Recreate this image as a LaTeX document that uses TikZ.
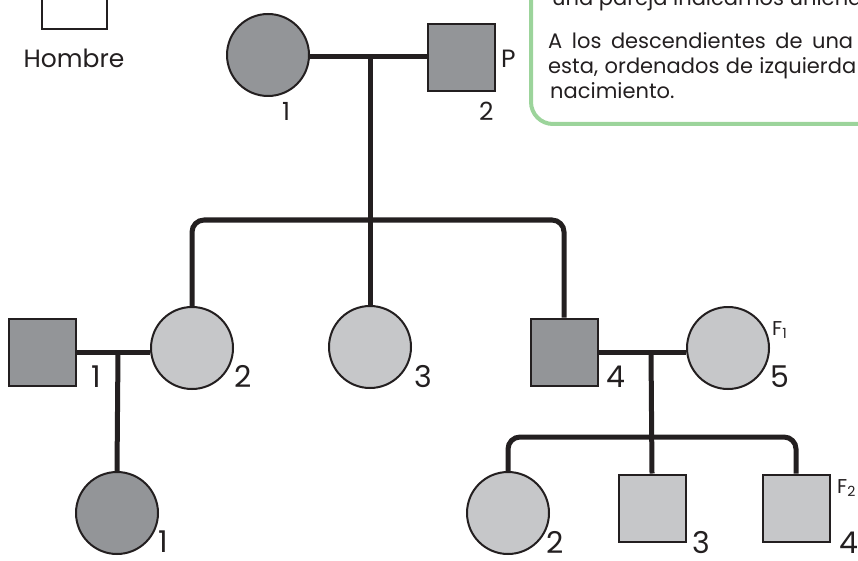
\documentclass[tikz,border=0pt]{standalone}
\usepackage{fontspec}
\setmainfont{Poppins}
\usetikzlibrary{positioning}
\definecolor{PedDark}{HTML}{939598}
\definecolor{PedLight}{HTML}{C6C7C9}
\definecolor{PedInk}{HTML}{231F20}
\definecolor{NoteGreen}{HTML}{9CD49B}

\begin{document}
\begin{tikzpicture}[x=1pt,y=-1pt,
    man/.style={draw=PedInk,line width=2pt,minimum size=67pt,inner sep=0pt},
    woman/.style={draw=PedInk,circle,line width=2pt,minimum size=82pt,inner sep=0pt},
    tie/.style={PedInk,line width=5pt},
    num/.style={anchor=base west,inner sep=0pt,text=PedInk,font=\fontsize{30}{32}\selectfont},
    smallnum/.style={num,font=\fontsize{25}{28}\selectfont},
    note/.style={anchor=base west,inner sep=0pt,text=PedInk,font=\fontsize{21}{25}\selectfont}]
  \useasboundingbox (0,0) rectangle (858,561);
  \clip (0,0) rectangle (858,561);

  % legend
  \node[man,minimum size=65pt] (legend) at (74,-3) {};
  \node[anchor=base,inner sep=0pt,text=PedInk,font=\fontsize{25}{28}\selectfont] (legendtxt) at (74,68) {Hombre};

  % note box
  \draw[NoteGreen,line width=4pt,rounded corners=22pt] (531,-40) |- (900,124);
  \node[note] (noteA) at (552,6) {una pareja indicamos uniendo};
  \node[note] (noteB) at (548,49) {\makebox[305pt][s]{A los descendientes de una}};
  \node[note] (noteC) at (548,74) {\makebox[308pt][s]{esta, ordenados de izquierda}};
  \node[note] (noteD) at (550,99) {nacimiento.};

  % generation I
  \node[woman,fill=PedDark] (gen1a) at (268,55) {};
  \node[man,fill=PedDark] (gen1b) at (461,58) {};
  \coordinate (mate1) at (370,57);
  \node[smallnum] (lab1a) at (282,121) {1};
  \node[smallnum] (lab1b) at (479,121) {2};
  \node[smallnum] (labP) at (501,68) {P};

  % generation II
  \node[man,fill=PedDark] (gen2x) at (42,352) {};
  \node[woman,fill=PedLight] (gen2a) at (192,348) {};
  \node[woman,fill=PedLight] (gen2b) at (370,347) {};
  \node[man,fill=PedDark] (gen2c) at (564,352) {};
  \node[woman,fill=PedLight] (gen2y) at (728,348) {};
  \coordinate (sib1) at (370,220);
  \coordinate (mate2) at (118,352);
  \coordinate (mate3) at (651,352);
  \node[num] (lab2x) at (91,387) {1};
  \node[num] (lab2a) at (234,387) {2};
  \node[num] (lab2b) at (414,387) {3};
  \node[num] (lab2c) at (606,387) {4};
  \node[num] (lab2y) at (770,387) {5};
  \node[anchor=base west,inner sep=0pt,text=PedInk,font=\fontsize{20}{22}\selectfont] (labF1) at (772,335) {F\textsubscript{1}};

  % generation III
  \node[woman,fill=PedDark] (gen3a) at (117,513) {};
  \node[woman,fill=PedLight] (gen3b) at (508,513) {};
  \node[man,fill=PedLight] (gen3c) at (652,508) {};
  \node[man,fill=PedLight] (gen3d) at (796,508) {};
  \coordinate (sib2) at (651,437);
  \node[num] (lab3a) at (158,552) {1};
  \node[num] (lab3b) at (546,553) {2};
  \node[num] (lab3c) at (692,553) {3};
  \node[num] (lab3d) at (839,553) {4};
  \node[anchor=base west,inner sep=0pt,text=PedInk,font=\fontsize{20}{22}\selectfont] (labF2) at (837,493) {F\textsubscript{2}};

  % ties
  \draw[tie] (mate1 -| gen1a.east) -- (mate1 -| gen1b.west);
  \draw[tie] (mate1) -- (gen2b.north);
  \draw[tie,rounded corners=12pt] (gen2a.north) |- (sib1) -| (gen2c.north);
  \draw[tie] (mate2 -| gen2x.east) -- (mate2 -| gen2a.west);
  \draw[tie] (mate2) -- (gen3a.north);
  \draw[tie] (mate3 -| gen2c.east) -- (mate3 -| gen2y.west);
  \draw[tie] (mate3) -- (gen3c.north);
  \draw[tie,rounded corners=12pt] (gen3b.north) |- (sib2) -| (gen3d.north);
\end{tikzpicture}
\end{document}
